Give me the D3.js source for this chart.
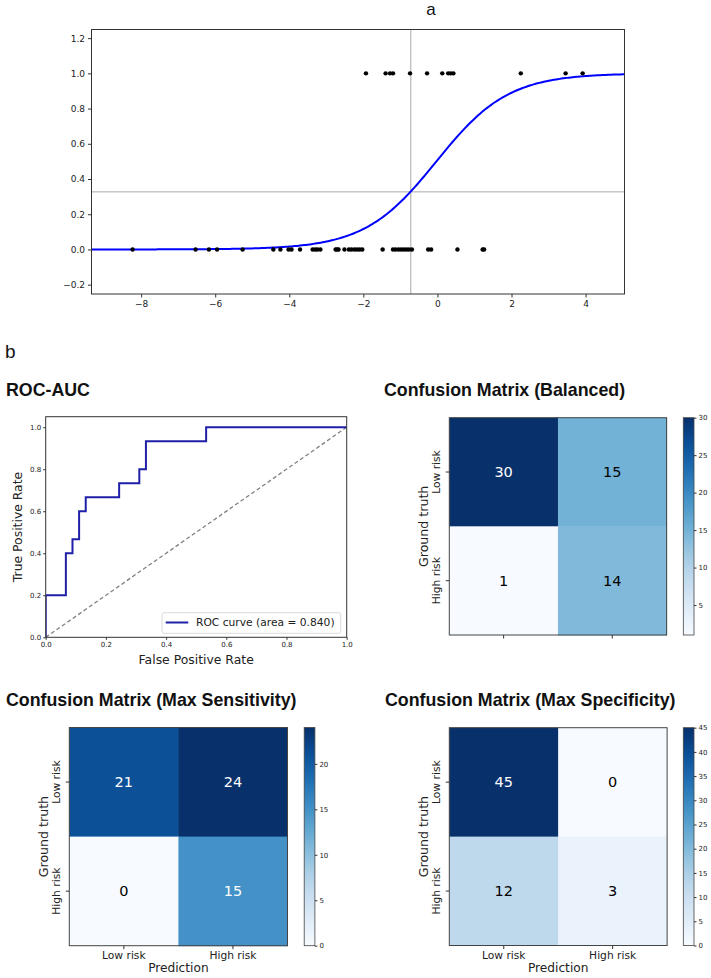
<!DOCTYPE html>
<html>
<head>
<meta charset="utf-8">
<script src="https://cdn.jsdelivr.net/npm/d3@7"></script>
<style>
  html, body { margin: 0; padding: 0; background: #fff; }
  svg { display: block; }
  .mpl { font-family: "DejaVu Sans", sans-serif; fill: #222; }
  .ttl { font-family: "Liberation Sans", Arial, Helvetica, sans-serif; font-weight: bold; fill: #111; }
</style>
</head>
<body>
<svg id="fig" width="711" height="978"></svg>
<script>
// ---------------- DATA ----------------
// Panel a: logistic fit
const topXTicks = [-8, -6, -4, -2, 0, 2, 4];
const topYTicks = [-0.2, 0.0, 0.2, 0.4, 0.6, 0.8, 1.0, 1.2];
const positiveScores = [-1.93, -1.40, -1.28, -1.20, -0.74, -0.28, 0.13, 0.29, 0.36, 0.43, 2.25, 3.46, 3.92];
const negativeScores = [-8.23, -6.53, -6.17, -5.95, -5.26, -4.43, -4.24, -4.02, -3.94, -3.71,
  -3.37, -3.30, -3.24, -3.16, -2.75, -2.71, -2.67, -2.51, -2.39, -2.32, -2.24, -2.17, -2.10, -2.03,
  -1.48, -1.20, -1.13, -1.05, -0.98, -0.91, -0.84, -0.77, -0.69, -0.25, -0.17, 0.54, 1.22, 1.26];
const thresholdScore = -0.72;
const thresholdProb = 0.327;
const fitIntercept = 0.03;   // fitted logistic model parameters
const fitSlope = 1.03;

// ROC
const rocFpr = [0, 0, 0.067, 0.067, 0.089, 0.089, 0.111, 0.111, 0.133, 0.133, 0.244, 0.244, 0.311, 0.311, 0.333, 0.333, 0.533, 0.533, 1.0];
const rocTpr = [0, 0.2, 0.2, 0.4, 0.4, 0.467, 0.467, 0.6, 0.6, 0.667, 0.667, 0.733, 0.733, 0.8, 0.8, 0.933, 0.933, 1.0, 1.0];
const rocTicks = [0.0, 0.2, 0.4, 0.6, 0.8, 1.0];
const rocAuc = "0.840";

// Confusion matrices
const cmClasses = ["Low risk", "High risk"];
const cmBalanced = [[30, 15], [1, 14]];
const cmMaxSens = [[21, 24], [0, 15]];
const cmMaxSpec = [[45, 0], [12, 3]];
const cbTicksBalanced = [5, 10, 15, 20, 25, 30];
const cbTicksMaxSens = [0, 5, 10, 15, 20];
const cbTicksMaxSpec = [0, 5, 10, 15, 20, 25, 30, 35, 40, 45];

// ---------------- DRAW ----------------
const svg = d3.select("#fig");
svg.append("rect").attr("width", 711).attr("height", 978).attr("fill", "#fff");
const fmt1 = v => (v < 0 ? "\u2212" : "") + Math.abs(v).toFixed(1);
const fmt0 = v => (v < 0 ? "\u2212" : "") + Math.abs(v);

// panel labels
svg.append("text").attr("x", 431).attr("y", 15).attr("text-anchor", "middle")
  .attr("font-family", "Liberation Sans, Arial, sans-serif").attr("font-size", 17).attr("fill", "#111").text("a");
svg.append("text").attr("x", 5).attr("y", 358)
  .attr("font-family", "Liberation Sans, Arial, sans-serif").attr("font-size", 19).attr("fill", "#111").text("b");

// ---- Panel a ----
(function () {
  const L = 91.5, R = 624.5, T = 29.5, B = 294;
  const x = d3.scaleLinear().domain([-9.34, 5.05]).range([L, R]);
  const y = d3.scaleLinear().domain([-0.253, 1.249]).range([B, T]);
  const g = svg.append("g");
  g.append("defs").append("clipPath").attr("id", "clipA")
    .append("rect").attr("x", L).attr("y", T).attr("width", R - L).attr("height", B - T);
  const plot = g.append("g").attr("clip-path", "url(#clipA)");
  plot.append("line").attr("x1", x(thresholdScore)).attr("x2", x(thresholdScore)).attr("y1", T).attr("y2", B)
    .attr("stroke", "#a8a8a8").attr("stroke-width", 1);
  plot.append("line").attr("x1", L).attr("x2", R).attr("y1", y(thresholdProb)).attr("y2", y(thresholdProb))
    .attr("stroke", "#a8a8a8").attr("stroke-width", 1);
  const xs = d3.range(-9.4, 5.1, 0.05);
  const line = d3.line().x(d => x(d)).y(d => y(1 / (1 + Math.exp(-(fitIntercept + fitSlope * d)))));
  plot.append("path").attr("d", line(xs)).attr("fill", "none").attr("stroke", "#0000ff").attr("stroke-width", 2);
  plot.selectAll("circle.neg").data(negativeScores).join("circle").attr("class", "neg")
    .attr("cx", d => x(d)).attr("cy", y(0)).attr("r", 2.2).attr("fill", "#000");
  plot.selectAll("circle.pos").data(positiveScores).join("circle").attr("class", "pos")
    .attr("cx", d => x(d)).attr("cy", y(1)).attr("r", 2.2).attr("fill", "#000");
  g.append("rect").attr("x", L).attr("y", T).attr("width", R - L).attr("height", B - T)
    .attr("fill", "none").attr("stroke", "#333").attr("stroke-width", 1);
  const xa = g.append("g").attr("transform", `translate(0,${B})`)
    .call(d3.axisBottom(x).tickValues(topXTicks).tickSize(3.5).tickPadding(3).tickFormat(fmt0));
  const ya = g.append("g").attr("transform", `translate(${L},0)`)
    .call(d3.axisLeft(y).tickValues(topYTicks).tickSize(3.5).tickPadding(3).tickFormat(fmt1));
  [xa, ya].forEach(a => {
    a.select(".domain").remove();
    a.selectAll("line").attr("stroke", "#333");
    a.selectAll("text").attr("class", "mpl").attr("font-size", 9).attr("fill", "#222");
  });
})();

// ---- ROC ----
(function () {
  const L = 45.7, R = 346.7, T = 416.7, B = 637.3;
  const x = d3.scaleLinear().domain([0, 1]).range([L, R]);
  const y = d3.scaleLinear().domain([0, 1.05]).range([B, T]);
  const g = svg.append("g");
  svg.append("text").attr("class", "ttl").attr("x", 6).attr("y", 396).attr("font-size", 17.8).text("ROC-AUC");
  g.append("defs").append("clipPath").attr("id", "clipR")
    .append("rect").attr("x", L).attr("y", T).attr("width", R - L).attr("height", B - T);
  const plot = g.append("g").attr("clip-path", "url(#clipR)");
  plot.append("line").attr("x1", x(0)).attr("y1", y(0)).attr("x2", x(1)).attr("y2", y(1))
    .attr("stroke", "#808080").attr("stroke-width", 1.3).attr("stroke-dasharray", "4,2.6");
  const pts = rocFpr.map((f, i) => [f, rocTpr[i]]);
  plot.append("path").attr("d", d3.line().x(d => x(d[0])).y(d => y(d[1]))(pts))
    .attr("fill", "none").attr("stroke", "#1f1fa8").attr("stroke-width", 2);
  g.append("rect").attr("x", L).attr("y", T).attr("width", R - L).attr("height", B - T)
    .attr("fill", "none").attr("stroke", "#333").attr("stroke-width", 1);
  const xa = g.append("g").attr("transform", `translate(0,${B})`)
    .call(d3.axisBottom(x).tickValues(rocTicks).tickSize(2.5).tickPadding(2).tickFormat(d3.format(".1f")));
  const ya = g.append("g").attr("transform", `translate(${L},0)`)
    .call(d3.axisLeft(y).tickValues(rocTicks).tickSize(2.5).tickPadding(2).tickFormat(d3.format(".1f")));
  [xa, ya].forEach(a => {
    a.select(".domain").remove();
    a.selectAll("line").attr("stroke", "#333");
    a.selectAll("text").attr("class", "mpl").attr("font-size", 7).attr("fill", "#222");
  });
  svg.append("text").attr("class", "mpl").attr("x", (L + R) / 2).attr("y", 663.5).attr("text-anchor", "middle")
    .attr("font-size", 12.4).text("False Positive Rate");
  svg.append("text").attr("class", "mpl").attr("transform", `translate(21.8,${(T + B) / 2}) rotate(-90)`)
    .attr("text-anchor", "middle").attr("font-size", 12.4).text("True Positive Rate");
  // legend
  const lg = g.append("g");
  lg.append("rect").attr("x", 162).attr("y", 612.7).attr("width", 178.7).attr("height", 20.6).attr("rx", 2)
    .attr("fill", "#fff").attr("fill-opacity", 0.85).attr("stroke", "#d0d0d0").attr("stroke-width", 0.8);
  lg.append("line").attr("x1", 165.7).attr("x2", 188.3).attr("y1", 622.5).attr("y2", 622.5)
    .attr("stroke", "#1f1fa8").attr("stroke-width", 2);
  lg.append("text").attr("class", "mpl").attr("x", 196).attr("y", 626.3).attr("font-size", 10.7)
    .text(`ROC curve (area = ${rocAuc})`);
})();

// ---- Confusion matrices ----
let gradId = 0;
function drawCM(cm, cfg) {
  const { x0, y0, size, cbX, title, tx, ty, ticks, showX } = cfg;
  const flat = cm.flat();
  const lo = d3.min(flat), hi = d3.max(flat);
  const color = d3.scaleSequential(d3.interpolateBlues).domain([lo, hi]);
  const thresh = hi / 2;
  const bx = d3.scaleBand().domain([0, 1]).range([x0, x0 + size]);
  const by = d3.scaleBand().domain([0, 1]).range([y0, y0 + size]);
  const g = svg.append("g");
  svg.append("text").attr("class", "ttl").attr("x", tx).attr("y", ty).attr("font-size", 17.8).text(title);
  const cells = [];
  cm.forEach((row, i) => row.forEach((v, j) => cells.push({ i, j, v })));
  g.selectAll("rect.cell").data(cells).join("rect").attr("class", "cell")
    .attr("x", d => bx(d.j)).attr("y", d => by(d.i))
    .attr("width", bx.bandwidth() + 0.5).attr("height", by.bandwidth() + 0.5)
    .attr("fill", d => color(d.v));
  g.selectAll("text.val").data(cells).join("text").attr("class", "val")
    .attr("x", d => bx(d.j) + bx.bandwidth() / 2).attr("y", d => by(d.i) + by.bandwidth() / 2 + 5.3)
    .attr("text-anchor", "middle").attr("font-family", "DejaVu Sans, sans-serif").attr("font-size", 14.5)
    .attr("fill", d => d.v > thresh ? "#fff" : "#000").text(d => d.v);
  g.append("rect").attr("x", x0).attr("y", y0).attr("width", size).attr("height", size)
    .attr("fill", "none").attr("stroke", "#444").attr("stroke-width", 1);
  // y ticks + labels
  cmClasses.forEach((c, i) => {
    const cy = by(i) + by.bandwidth() / 2;
    g.append("line").attr("x1", x0 - 3.5).attr("x2", x0).attr("y1", cy).attr("y2", cy).attr("stroke", "#333");
    g.append("text").attr("class", "mpl").attr("transform", `translate(${x0 - 9},${cy}) rotate(-90)`)
      .attr("text-anchor", "middle").attr("font-size", 10.7).text(c);
    const cx = bx(i) + bx.bandwidth() / 2;
    g.append("line").attr("x1", cx).attr("x2", cx).attr("y1", y0 + size).attr("y2", y0 + size + 3.5).attr("stroke", "#333");
    if (showX) {
      g.append("text").attr("class", "mpl").attr("x", cx).attr("y", y0 + size + 13.6)
        .attr("text-anchor", "middle").attr("font-size", 10.7).text(c);
    }
  });
  g.append("text").attr("class", "mpl").attr("transform", `translate(${x0 - 21.5},${y0 + size / 2}) rotate(-90)`)
    .attr("text-anchor", "middle").attr("font-size", 12.6).text("Ground truth");
  if (showX) {
    g.append("text").attr("class", "mpl").attr("x", x0 + size / 2).attr("y", y0 + size + 26)
      .attr("text-anchor", "middle").attr("font-size", 12.2).text("Prediction");
  }
  // colorbar
  const cbW = 10.7;
  const id = "cbgrad" + (gradId++);
  const grad = svg.append("defs").append("linearGradient").attr("id", id)
    .attr("x1", 0).attr("y1", 1).attr("x2", 0).attr("y2", 0);
  d3.range(0, 1.0001, 0.05).forEach(t => {
    grad.append("stop").attr("offset", t).attr("stop-color", d3.interpolateBlues(t));
  });
  g.append("rect").attr("x", cbX).attr("y", y0).attr("width", cbW).attr("height", size)
    .attr("fill", `url(#${id})`).attr("stroke", "#444").attr("stroke-width", 0.8);
  const cs = d3.scaleLinear().domain([lo, hi]).range([y0 + size, y0]);
  const ca = g.append("g").attr("transform", `translate(${cbX + cbW},0)`)
    .call(d3.axisRight(cs).tickValues(ticks).tickSize(2.5).tickPadding(2));
  ca.select(".domain").remove();
  ca.selectAll("line").attr("stroke", "#333");
  ca.selectAll("text").attr("class", "mpl").attr("font-size", 7).attr("fill", "#222");
}

drawCM(cmBalanced, { x0: 449.3, y0: 417.7, size: 217.3, cbX: 683.3, title: "Confusion Matrix (Balanced)",
  tx: 384, ty: 396, ticks: cbTicksBalanced, showX: false });
drawCM(cmMaxSens, { x0: 69.3, y0: 727.5, size: 218.2, cbX: 304.2, title: "Confusion Matrix (Max Sensitivity)",
  tx: 6, ty: 706, ticks: cbTicksMaxSens, showX: true });
drawCM(cmMaxSpec, { x0: 449.3, y0: 727.7, size: 217.8, cbX: 683.3, title: "Confusion Matrix (Max Specificity)",
  tx: 385, ty: 706, ticks: cbTicksMaxSpec, showX: true });
</script>
</body>
</html>
